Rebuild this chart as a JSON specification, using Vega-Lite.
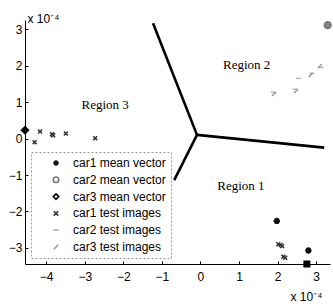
{
  "$schema": "https://vega.github.io/schema/vega-lite/v6.json",
  "width": 305,
  "height": 244,
  "autosize": {"type": "none"},
  "padding": {"left": 25, "top": 20, "right": 3, "bottom": 42},
  "background": "white",
  "config": {
    "view": {"stroke": null},
    "axis": {
      "grid": false,
      "domainColor": "#000",
      "domainWidth": 1,
      "tickColor": "#000",
      "tickSize": -3,
      "labelFont": "Liberation Sans",
      "labelFontSize": 12,
      "labelColor": "#000",
      "titleFont": "Liberation Sans",
      "titleFontSize": 12,
      "titleFontWeight": "normal",
      "titleColor": "#000"
    },
    "legend": {
      "orient": "none",
      "legendX": 6,
      "legendY": 132,
      "padding": 5,
      "rowPadding": 4.8,
      "labelFont": "Liberation Sans",
      "labelFontSize": 12,
      "labelColor": "#000",
      "symbolOffset": 14,
      "labelOffset": 11,
      "symbolSize": 30,
      "symbolStrokeWidth": 1.6,
      "fillColor": "white",
      "strokeColor": "#999",
      "strokeDash": [2, 2]
    }
  },
  "layer": [
    {
      "data": {"values": [
        {"seg": "a", "o": 0, "x": -0.09, "y": 0.10},
        {"seg": "a", "o": 1, "x": -1.23, "y": 3.16},
        {"seg": "b", "o": 0, "x": -0.09, "y": 0.10},
        {"seg": "b", "o": 1, "x": 3.21, "y": -0.25},
        {"seg": "c", "o": 0, "x": -0.09, "y": 0.10},
        {"seg": "c", "o": 1, "x": -0.68, "y": -1.14}
      ]},
      "mark": {"type": "line", "color": "#000", "strokeWidth": 2.6},
      "encoding": {
        "x": {"field": "x", "type": "quantitative", "scale": {"domain": [-4.55, 3.36], "nice": false, "zero": false},
              "axis": {"values": [-4, -3, -2, -1, 0, 1, 2, 3], "labelPadding": 10, "title": "x 10⁻⁴", "titleX": 265, "titleY": 36, "titleAlign": "left", "titleBaseline": "alphabetic", "titleAnchor": null}},
        "y": {"field": "y", "type": "quantitative", "scale": {"domain": [-3.44, 3.25], "nice": false, "zero": false},
              "axis": {"values": [-3, -2, -1, 0, 1, 2, 3], "labelPadding": 6, "title": "x 10⁻⁴", "titleAngle": 0, "titleX": 2, "titleY": 2, "titleAlign": "left", "titleBaseline": "alphabetic", "titleAnchor": null}},
        "detail": {"field": "seg"},
        "order": {"field": "o"}
      }
    },
    {
      "data": {"values": [
        {"x": -4.16, "y": 0.19, "series": "car1 test images"},
        {"x": -3.85, "y": 0.12, "series": "car1 test images"},
        {"x": -3.82, "y": 0.09, "series": "car1 test images"},
        {"x": -3.49, "y": 0.14, "series": "car1 test images"},
        {"x": -2.73, "y": 0.01, "series": "car1 test images"},
        {"x": -4.30, "y": -0.10, "series": "car1 test images"},
        {"x": 2.02, "y": -2.90, "series": "car1 test images"},
        {"x": 2.08, "y": -2.92, "series": "car1 test images"},
        {"x": 2.12, "y": -2.95, "series": "car1 test images"},
        {"x": 2.15, "y": -3.24, "series": "car1 test images"},
        {"x": 2.20, "y": -3.27, "series": "car1 test images"},
        {"x": 1.89, "y": 1.27, "series": "car2 test images"},
        {"x": 2.46, "y": 1.35, "series": "car2 test images"},
        {"x": 2.54, "y": 1.65, "series": "car2 test images"},
        {"x": 2.89, "y": 1.79, "series": "car2 test images"},
        {"x": 3.13, "y": 1.95, "series": "car2 test images"},
        {"x": 1.91, "y": 1.22, "series": "car3 test images"},
        {"x": 2.48, "y": 1.30, "series": "car3 test images"},
        {"x": 2.86, "y": 1.74, "series": "car3 test images"},
        {"x": 3.10, "y": 1.99, "series": "car3 test images"}
      ]},
      "mark": {"type": "point", "filled": false, "size": 24, "strokeWidth": 1.5, "opacity": 1},
      "encoding": {
        "x": {"field": "x", "type": "quantitative"},
        "y": {"field": "y", "type": "quantitative"},
        "color": {"field": "series", "type": "nominal",
          "scale": {"domain": ["car1 mean vector", "car2 mean vector", "car3 mean vector", "car1 test images", "car2 test images", "car3 test images"],
                    "range": ["#111111", "#777777", "#000000", "#333333", "#b5b5b5", "#9a9a9a"]},
          "legend": {"title": null}},
        "shape": {"field": "series", "type": "nominal",
          "scale": {"domain": ["car1 mean vector", "car2 mean vector", "car3 mean vector", "car1 test images", "car2 test images", "car3 test images"],
                    "range": ["M-1,0L1,0M0,-1L0,1M-0.7,-0.7L0.7,0.7M-0.7,0.7L0.7,-0.7", "circle", "diamond", "M-0.8,-0.8L0.8,0.8M-0.8,0.8L0.8,-0.8", "M-1,0L1,0", "M-0.8,0.8L0.8,-0.8"]},
          "legend": {"title": null}}
      }
    },
    {
      "data": {"values": [
        {"x": 1.98, "y": -2.26, "series": "car1 mean vector"},
        {"x": 2.80, "y": -3.07, "series": "car1 mean vector"},
        {"x": 3.30, "y": 3.11, "series": "car2 mean vector"},
        {"x": -4.55, "y": 0.23, "series": "car3 mean vector"}
      ]},
      "mark": {"type": "point", "filled": false, "size": 40, "strokeWidth": 2, "opacity": 1},
      "encoding": {
        "x": {"field": "x", "type": "quantitative"},
        "y": {"field": "y", "type": "quantitative"},
        "color": {"field": "series", "type": "nominal"},
        "shape": {"field": "series", "type": "nominal"},
        "fill": {"field": "series", "type": "nominal", "legend": null,
          "scale": {"domain": ["car1 mean vector", "car2 mean vector", "car3 mean vector"], "range": ["#111111", "#888888", "#000000"]}}
      }
    },
    {
      "data": {"values": [{"x": 2.76, "y": -3.44}]},
      "mark": {"type": "point", "shape": "square", "filled": true, "color": "#000", "size": 49, "opacity": 1},
      "encoding": {
        "x": {"field": "x", "type": "quantitative"},
        "y": {"field": "y", "type": "quantitative"}
      }
    },
    {
      "data": {"values": [
        {"x": -2.47, "y": 0.92, "label": "Region 3"},
        {"x": 1.20, "y": 2.01, "label": "Region 2"},
        {"x": 1.05, "y": -1.29, "label": "Region 1"}
      ]},
      "mark": {"type": "text", "font": "Liberation Serif", "fontSize": 13, "color": "#000", "align": "center", "baseline": "middle"},
      "encoding": {
        "x": {"field": "x", "type": "quantitative"},
        "y": {"field": "y", "type": "quantitative"},
        "text": {"field": "label"}
      }
    }
  ]
}
